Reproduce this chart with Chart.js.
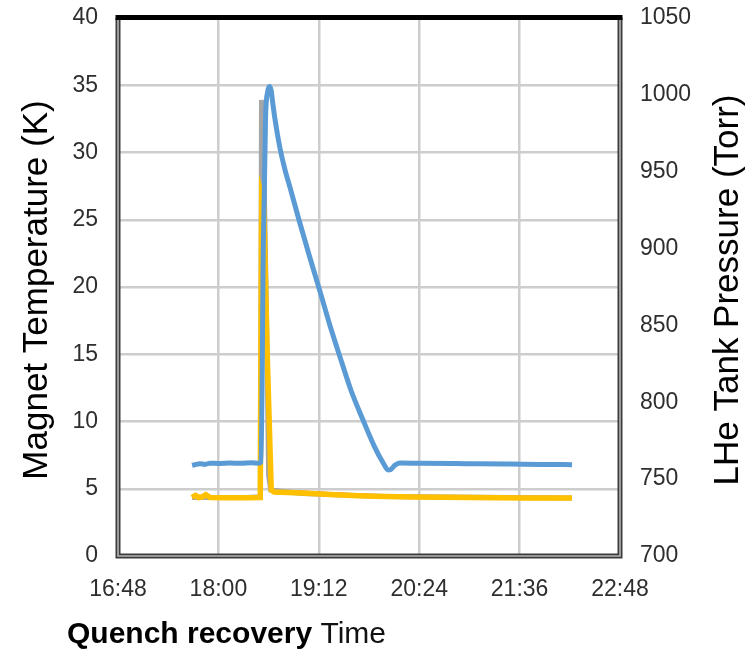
<!DOCTYPE html>
<html>
<head>
<meta charset="utf-8">
<title>Quench recovery</title>
<script src="https://cdn.jsdelivr.net/npm/chart.js@4/dist/chart.umd.min.js"></script>
<style>
  html, body { margin: 0; padding: 0; background: #fff; }
  #wrap { width: 748px; height: 649px; }
</style>
</head>
<body>
<div id="wrap"><canvas id="quenchChart" width="748" height="649"></canvas></div>
<script>
// Time values are minutes after midnight

// LHe tank pressure (Torr), right axis
const pressureTimes = [1061.1, 1063.0, 1066.8, 1070.5, 1074.0, 1080.0, 1088.3, 1096.0, 1104.0, 1108.4,
  1110.6, 1112.2, 1113.8, 1115.3, 1116.6, 1117.8, 1118.8, 1120.6, 1124.0, 1127.8,
  1131.3, 1137.8, 1145.0, 1152.9, 1160.0, 1167.2, 1175.0, 1183.7, 1192.0, 1198.5,
  1201.6, 1203.5, 1206.5, 1210.0, 1224.6, 1250.0, 1267.6, 1290.0, 1310.6, 1333.6];
const pressureTorr = [759.0, 759.4, 760.0, 759.6, 760.4, 760.2, 760.5, 760.3, 760.6, 760.4,
  761.0, 900.0, 985.0, 1002.0, 1005.5, 1003.0, 996.0, 984.0, 966.0, 951.0,
  940.0, 918.6, 896.0, 872.0, 850.0, 829.5, 808.0, 788.5, 771.0, 760.0,
  756.0, 756.2, 759.0, 760.5, 760.3, 760.1, 760.0, 759.8, 759.6, 759.4];

// Magnet temperature sensors (K), left axis
const tempTimes = [1061.1, 1063.5, 1066.0, 1068.5, 1071.0, 1074.0, 1085.0, 1100.0, 1110.0, 1111.0,
  1112.5, 1115.0, 1117.9, 1120.0, 1140.0, 1160.0, 1180.0, 1200.0, 1220.0, 1260.0, 1300.0, 1333.6];
const tempGold = [4.35, 4.5, 4.35, 4.4, 4.55, 4.35, 4.33, 4.33, 4.35, 26.8,
  26.2, 15.0, 4.9, 4.75, 4.68, 4.58, 4.48, 4.42, 4.38, 4.35, 4.32, 4.31];
const tempOrange = [4.42, 4.57, 4.42, 4.47, 4.62, 4.42, 4.4, 4.4, 4.42, 25.5,
  25.0, 14.0, 4.97, 4.82, 4.75, 4.64, 4.53, 4.46, 4.42, 4.39, 4.36, 4.35];

const spikeTimes = [1061.1, 1100.0, 1110.2, 1110.9, 1112.0, 1114.5, 1116.0, 1117.5, 1140.0, 1200.0, 1333.6];
const tempGray = [4.35, 4.35, 4.4, 33.9, 33.0, 18.0, 6.0, 4.9, 4.65, 4.42, 4.31];

// Axis ranges
const timeMin = 1008;   // 16:48
const timeMax = 1368;   // 22:48
const timeStep = 72;
const tempMin = 0, tempMax = 40, tempStep = 5;
const pressMin = 700, pressMax = 1050, pressStep = 50;

const leftTitle = 'Magnet Temperature (K)';
const rightTitle = 'LHe Tank Pressure (Torr)';
const captionBold = 'Quench recovery';
const captionPlain = 'Time';

const fontFamily = '"Liberation Sans", Arial, sans-serif';

function toPoints(xs, ys) {
  return xs.map((x, i) => ({ x, y: ys[i] }));
}

function formatClock(minutes) {
  const h = Math.floor(minutes / 60);
  const m = Math.round(minutes % 60);
  return h + ':' + String(m).padStart(2, '0');
}

// fixed box sizes so the plot area lands where it should
function fixWidth(width) {
  return scale => {
    scale.width = width;
    scale.paddingTop = 0;
    scale.paddingBottom = 0;
  };
}

// Frame around the plot plus the rotated axis titles and the caption
const framePlugin = {
  id: 'frame',
  afterDraw(chart) {
    const { ctx, chartArea } = chart;
    const { left, right, top, bottom } = chartArea;
    ctx.save();

    // double line on left, right and bottom
    ctx.lineJoin = 'miter';
    ctx.beginPath();
    ctx.moveTo(left, top);
    ctx.lineTo(left, bottom);
    ctx.lineTo(right, bottom);
    ctx.lineTo(right, top);
    ctx.strokeStyle = '#3c3c3c';
    ctx.lineWidth = 5;
    ctx.stroke();
    ctx.strokeStyle = '#b4b4b4';
    ctx.lineWidth = 1.6;
    ctx.stroke();

    // heavy black top edge
    ctx.fillStyle = '#000';
    ctx.fillRect(left - 2.5, top - 3, right - left + 5, 5);

    // axis titles
    ctx.fillStyle = '#000';
    ctx.font = '35px ' + fontFamily;
    ctx.textAlign = 'center';
    ctx.textBaseline = 'middle';
    const midY = (top + bottom) / 2 + 3;

    ctx.save();
    ctx.translate(37, midY);
    ctx.rotate(-Math.PI / 2);
    ctx.fillText(leftTitle, 0, 0);
    ctx.restore();

    ctx.save();
    ctx.translate(728, midY);
    ctx.rotate(-Math.PI / 2);
    ctx.fillText(rightTitle, 0, 0);
    ctx.restore();

    // caption under the time axis
    ctx.textAlign = 'left';
    ctx.textBaseline = 'alphabetic';
    ctx.font = 'bold 30px ' + fontFamily;
    ctx.fillText(captionBold, 67, 643);
    const w = ctx.measureText(captionBold + ' ').width;
    ctx.font = '30px ' + fontFamily;
    ctx.fillStyle = '#111';
    ctx.fillText(captionPlain, 67 + w, 643);

    ctx.restore();
  }
};

const tickFont = { family: fontFamily, size: 23 };
const tickColor = '#2e2e2e';
const gridColor = '#cdcdcd';

const ctx = document.getElementById('quenchChart').getContext('2d');
new Chart(ctx, {
  type: 'line',
  data: {
    datasets: [{
      label: 'LHe tank pressure',
      data: toPoints(pressureTimes, pressureTorr),
      yAxisID: 'yPress',
      borderColor: '#5b9bd5',
      borderWidth: 5,
      pointRadius: 0,
      cubicInterpolationMode: 'monotone'
    }, {
      label: 'Magnet temperature C',
      data: toPoints(tempTimes, tempGold),
      yAxisID: 'yTemp',
      borderColor: '#ffc000',
      borderWidth: 5.5,
      pointRadius: 0,
      tension: 0
    }, {
      label: 'Magnet temperature B',
      data: toPoints(tempTimes, tempOrange),
      yAxisID: 'yTemp',
      borderColor: '#ed7d31',
      borderWidth: 3,
      pointRadius: 0,
      tension: 0
    }, {
      label: 'Magnet temperature A',
      data: toPoints(spikeTimes, tempGray),
      yAxisID: 'yTemp',
      borderColor: '#a5a5a5',
      borderWidth: 5,
      pointRadius: 0,
      tension: 0
    }]
  },
  options: {
    responsive: false,
    animation: false,
    layout: { padding: { top: 18, left: 0, right: 0, bottom: 0 } },
    plugins: {
      legend: { display: false },
      tooltip: { enabled: false }
    },
    scales: {
      x: {
        type: 'linear',
        min: timeMin,
        max: timeMax,
        afterFit(scale) { scale.height = 93; },
        ticks: {
          stepSize: timeStep,
          padding: 20,
          color: tickColor,
          font: tickFont,
          maxRotation: 0,
          autoSkip: false,
          callback: value => formatClock(value)
        },
        grid: { color: gridColor, lineWidth: 2.5, drawTicks: false },
        border: { display: false }
      },
      yTemp: {
        type: 'linear',
        position: 'left',
        min: tempMin,
        max: tempMax,
        afterFit: fixWidth(118),
        ticks: { stepSize: tempStep, padding: 20, color: tickColor, font: tickFont, callback: value => String(value) },
        grid: { color: gridColor, lineWidth: 2.5, drawTicks: false },
        border: { display: false }
      },
      yPress: {
        type: 'linear',
        position: 'right',
        min: pressMin,
        max: pressMax,
        afterFit: fixWidth(128),
        ticks: { stepSize: pressStep, padding: 20, color: tickColor, font: tickFont, callback: value => String(value) },
        grid: { display: false, drawTicks: false },
        border: { display: false }
      }
    }
  },
  plugins: [framePlugin]
});
</script>
</body>
</html>
